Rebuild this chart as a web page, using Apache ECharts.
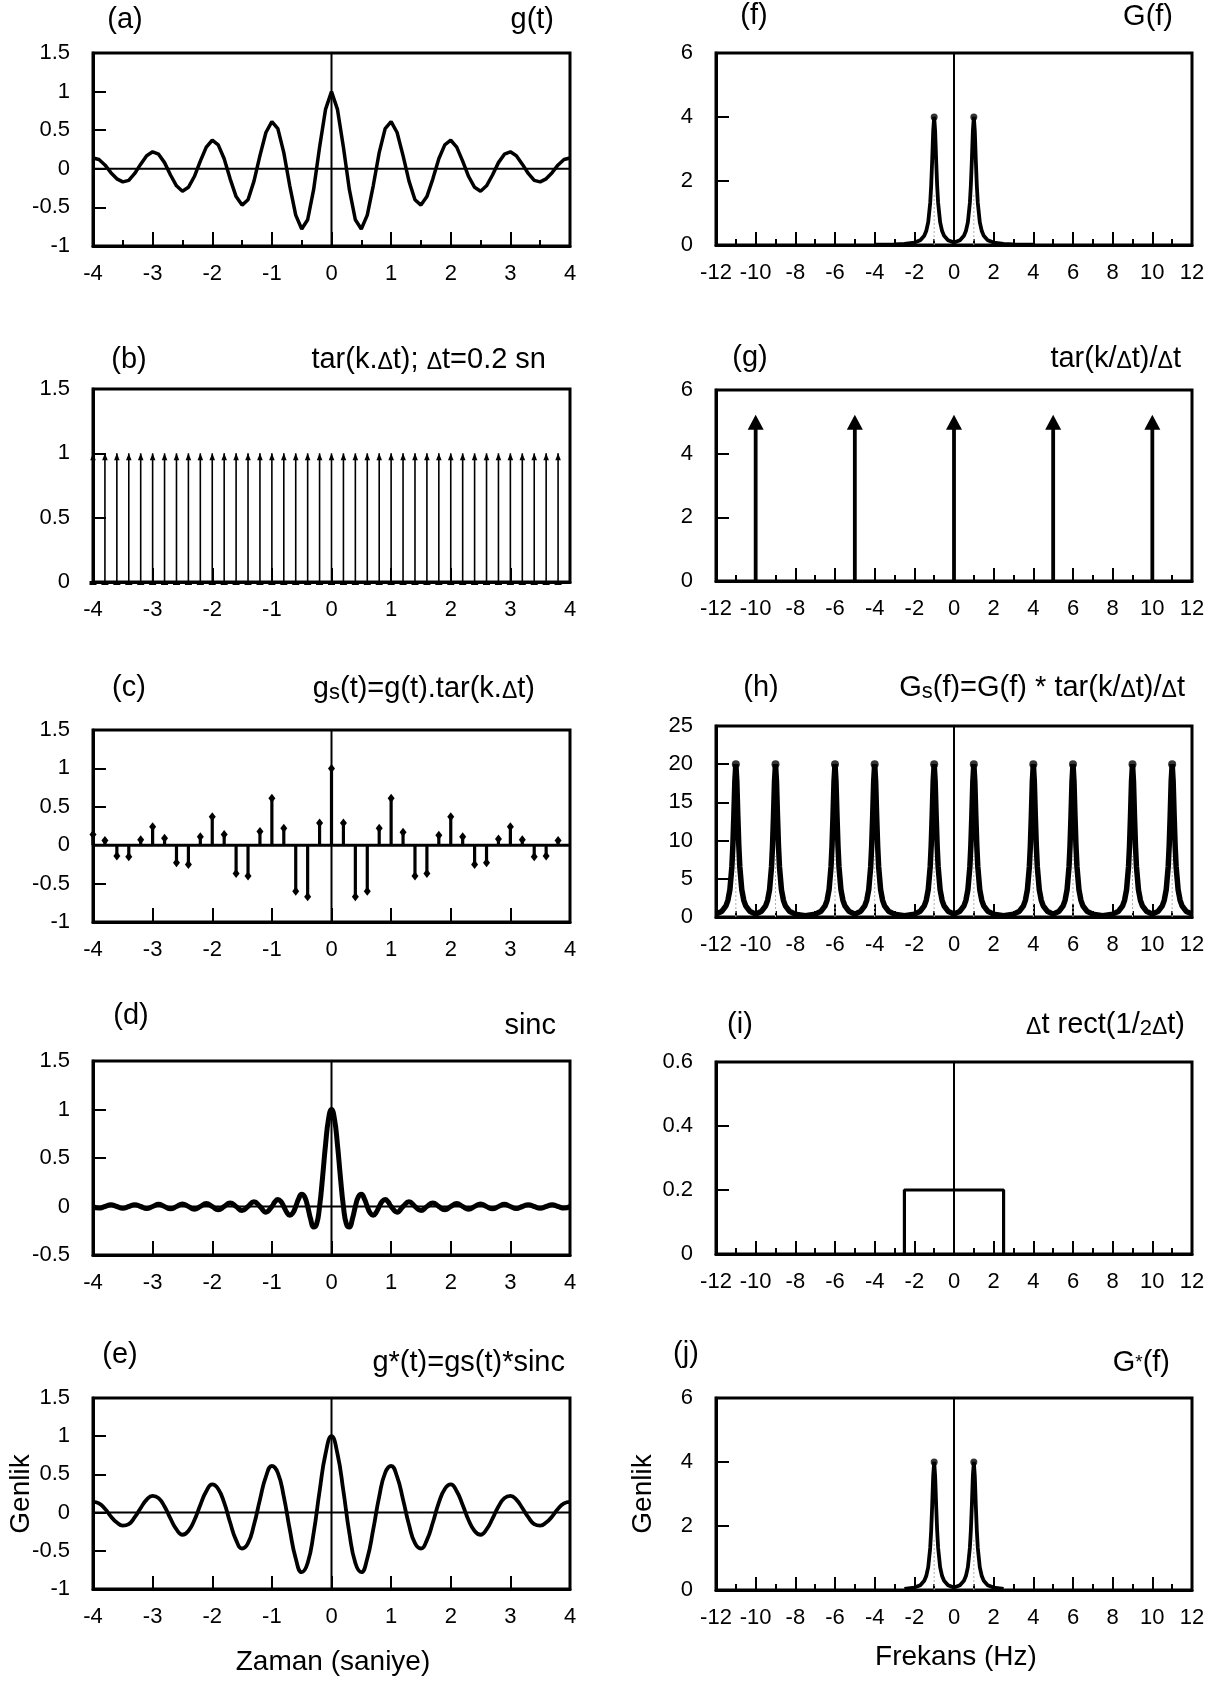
<!DOCTYPE html>
<html><head><meta charset="utf-8">
<script src="https://cdn.jsdelivr.net/npm/echarts@6.0.0/dist/echarts.min.js"></script>
<style>html,body{margin:0;padding:0;background:#fff}#c{width:1218px;height:1681px}</style>
</head><body><div id="c"></div>
<script>
// ---------------- DATA ----------------
function seq(a, b, step) { const o = []; const n = Math.round((b - a) / step); for (let k = 0; k <= n; k++) o.push(Math.round((a + k * step) * 1000) / 1000); return o; }

// (a) g(t), sampled every 0.1 s
const tA = seq(-4, 4, 0.1);
const gA = [0.14, 0.12, 0.05, -0.05, -0.13, -0.17, -0.15, -0.06, 0.06, 0.17, 0.22, 0.19, 0.08, -0.08, -0.22, -0.29, -0.24, -0.10, 0.10, 0.28, 0.37, 0.31, 0.13, -0.13, -0.36, -0.47, -0.40, -0.16, 0.17, 0.47, 0.61, 0.52, 0.21, -0.22, -0.60, -0.78, -0.66, -0.27, 0.28, 0.77,
  1.00,
  0.77, 0.28, -0.27, -0.66, -0.78, -0.60, -0.22, 0.21, 0.52, 0.61, 0.47, 0.17, -0.16, -0.40, -0.47, -0.36, -0.13, 0.13, 0.31, 0.37, 0.28, 0.10, -0.10, -0.24, -0.29, -0.22, -0.08, 0.08, 0.19, 0.22, 0.17, 0.06, -0.06, -0.15, -0.17, -0.13, -0.05, 0.05, 0.12, 0.14];

// (b) comb, Δt = 0.2 s
const tB = seq(-4, 3.8, 0.2);
const bVals = [1,1,1,1,1,1,1,1,1,1,1,1,1,1,1,1,1,1,1,1,1,1,1,1,1,1,1,1,1,1,1,1,1,1,1,1,1,1,1,1];

// (c) sampled signal
const tC = seq(-4, 3.8, 0.2);
const gC = [0.14, 0.06, -0.14, -0.15, 0.07, 0.24, 0.09, -0.23, -0.25, 0.11, 0.37, 0.14, -0.37, -0.40, 0.18, 0.61, 0.22, -0.60, -0.67, 0.29,
  1.00, 0.29, -0.67, -0.60, 0.22, 0.61, 0.17, -0.40, -0.37, 0.13, 0.37, 0.11, -0.25, -0.23, 0.08, 0.24, 0.07, -0.15, -0.14, 0.06];

// (d) sinc
const tD = seq(-4, -1.1, 0.1).concat(seq(-1, 1, 0.05), seq(1.1, 4, 0.1));
const sD = [0, -0.016, 0, 0.017, 0, -0.018, 0, 0.019, 0, -0.021, 0, 0.022, 0, -0.024, 0, 0.025, 0, -0.028, 0, 0.030, 0, -0.034, 0, 0.037, 0, -0.042, 0, 0.049, 0, -0.058,
  0, 0.047, 0.071, 0.053, 0, -0.060, -0.091, -0.069, 0, 0.082, 0.127, 0.100, 0, -0.129, -0.212, -0.180, 0, 0.300, 0.637, 0.900, 1.000, 0.900, 0.637, 0.300, 0, -0.180, -0.212, -0.129, 0, 0.100, 0.127, 0.082, 0, -0.069, -0.091, -0.060, 0, 0.053, 0.071, 0.047, 0,
  -0.058, 0, 0.049, 0, -0.042, 0, 0.037, 0, -0.034, 0, 0.030, 0, -0.028, 0, 0.025, 0, -0.024, 0, 0.022, 0, -0.021, 0, 0.019, 0, -0.018, 0, 0.017, 0, -0.016, 0];

// (e) reconstructed g*(t)
const tE = seq(-4, 4, 0.1);
const gE = gA;

// spectral peak shape (offset in Hz, relative height), read from (f)
const pOff = [-3, -2, -1.5, -1, -0.7, -0.5, -0.4, -0.3, -0.2, -0.15, -0.1, -0.05, 0, 0.05, 0.1, 0.15, 0.2, 0.3, 0.4, 0.5, 0.7, 1, 1.5, 2, 3];
const pRel = [0.002, 0.005, 0.009, 0.019, 0.038, 0.073, 0.109, 0.179, 0.329, 0.466, 0.662, 0.887, 1, 0.887, 0.662, 0.466, 0.329, 0.179, 0.109, 0.073, 0.038, 0.019, 0.009, 0.005, 0.002];

// (f) G(f)
const fPeaks = [-1, 1], fHeight = 4, fRange = [-4, 4];
// (g) comb in frequency
const gArrows = [-10, -5, 0, 5, 10], gHeight = 5;
// (h) Gs(f)
const hPeaks = [-11, -9, -6, -4, -1, 1, 4, 6, 9, 11], hHeight = 20, hRange = [-12, 12];
// (i) rect
const rectEdges = [-2.5, 2.5], rectHeight = 0.2;
// (j) G*(f)
const jPeaks = [-1, 1], jHeight = 4, jRange = [-2.5, 2.5];

// ---------------- BUILD ----------------
const FF = '"Liberation Sans", Arial, Helvetica, sans-serif';
const TICK_FS = 22;
function pairs(xs, ys) { return xs.map((x, i) => [x, ys[i]]); }
function peakLine(centers, height, lo, hi) {
  const out = [];
  centers.forEach((c, i) => {
    const a = i === 0 ? lo : (centers[i - 1] + c) / 2;
    const b = i === centers.length - 1 ? hi : (c + centers[i + 1]) / 2;
    pOff.forEach((d, k) => { const x = Math.round((c + d) * 1000) / 1000; if (x >= a - 1e-9 && x <= b + 1e-9) out.push([x, height * pRel[k]]); });
  });
  return out;
}

const panels = [
  {left: 93, top: 53, w: 477, h: 193},
  {left: 93, top: 389, w: 477, h: 193},
  {left: 93, top: 730, w: 477, h: 192},
  {left: 93, top: 1061, w: 477, h: 194},
  {left: 93, top: 1398, w: 477, h: 191},
  {left: 716, top: 53, w: 476, h: 192},
  {left: 716, top: 390, w: 476, h: 191},
  {left: 716, top: 726, w: 476, h: 191},
  {left: 716, top: 1062, w: 476, h: 192},
  {left: 716, top: 1398, w: 476, h: 192}
];
const grid = panels.map(p => ({left: p.left, top: p.top, width: p.w, height: p.h, show: true, borderWidth: 3, borderColor: '#000', backgroundColor: 'rgba(0,0,0,0)', outerBoundsMode: 'none', containLabel: false}));

function axX(gi, min, max, interval, tickLen, minorLen) {
  return {gridIndex: gi, type: 'value', min, max, interval,
    axisLine: {show: true, onZero: false, lineStyle: {color: '#000', width: 3}},
    axisTick: {show: true, inside: true, length: tickLen, lineStyle: {color: '#000', width: 2}},
    minorTick: minorLen ? {show: true, splitNumber: 2, length: minorLen, lineStyle: {color: '#000', width: 2}} : {show: false},
    splitLine: {show: false}, minorSplitLine: {show: false},
    axisLabel: {show: true, color: '#000', fontSize: TICK_FS, fontFamily: FF, margin: 17}};
}
function axY(gi, min, max, interval) {
  return {gridIndex: gi, type: 'value', min, max, interval,
    axisLine: {show: true, onZero: false, lineStyle: {color: '#000', width: 3}},
    axisTick: {show: true, inside: true, length: 13, lineStyle: {color: '#000', width: 2}},
    splitLine: {show: false},
    axisLabel: {show: true, color: '#000', fontSize: TICK_FS, fontFamily: FF, margin: 23}};
}
const xAxis = [
  axX(0, -4, 4, 1, 14, 6), axX(1, -4, 4, 1, 14, 0), axX(2, -4, 4, 1, 14, 0), axX(3, -4, 4, 1, 14, 0), axX(4, -4, 4, 1, 13, 0),
  axX(5, -12, 12, 2, 13, 6), axX(6, -12, 12, 2, 13, 6), axX(7, -12, 12, 2, 13, 6), axX(8, -12, 12, 2, 13, 6), axX(9, -12, 12, 2, 13, 6)
];
const yAxis = [
  axY(0, -1, 1.5, 0.5), axY(1, 0, 1.5, 0.5), axY(2, -1, 1.5, 0.5), axY(3, -0.5, 1.5, 0.5), axY(4, -1, 1.5, 0.5),
  axY(5, 0, 6, 2), axY(6, 0, 6, 2), axY(7, 0, 25, 5), axY(8, 0, 0.6, 0.2), axY(9, 0, 6, 2)
];

const series = [];
function line(gi, data, width, extra) {
  series.push(Object.assign({type: 'line', xAxisIndex: gi, yAxisIndex: gi, data, symbol: 'none', silent: true, animation: false,
    lineStyle: {color: '#000', width}, z: 3}, extra || {}));
}
function vZero(gi) { const y = yAxis[gi]; line(gi, [[0, y.min], [0, y.max]], 2, {z: 1}); }
function hZero(gi, w) { const x = xAxis[gi]; line(gi, [[x.min, 0], [x.max, 0]], w || 2, {z: 1}); }

function stems(gi, data, o) {
  series.push({type: 'custom', xAxisIndex: gi, yAxisIndex: gi, data, silent: true, animation: false, clip: false, z: o.z || 4,
    renderItem: function (params, api) {
      const x = api.value(0), y = api.value(1);
      const p0 = api.coord([x, 0]), p1 = api.coord([x, y]);
      const ch = [{type: 'line', shape: {x1: p0[0], y1: p0[1], x2: p1[0], y2: p1[1]}, style: {stroke: o.color || '#000', lineWidth: o.lw, lineDash: o.dash || null}}];
      if (o.head === 'arrow') {
        const tip = p1[1] - o.tipUp, base = tip + o.hh;
        ch.push({type: 'polygon', shape: {points: [[p1[0], tip], [p1[0] - o.hw, base], [p1[0] + o.hw, base]]}, style: {fill: '#000'}});
      } else if (o.head === 'diamond') {
        ch.push({type: 'polygon', shape: {points: [[p1[0], p1[1] - 4.5], [p1[0] + 3.5, p1[1]], [p1[0], p1[1] + 4.5], [p1[0] - 3.5, p1[1]]]}, style: {fill: '#000'}});
      }
      if (o.base) ch.push({type: 'rect', shape: {x: p0[0] - 3.5, y: p0[1] - 1, width: 7, height: 4}, style: {fill: '#000'}});
      return {type: 'group', children: ch};
    }});
}
function dots(gi, data, size) {
  series.push({type: 'scatter', xAxisIndex: gi, yAxisIndex: gi, data, symbol: 'circle', symbolSize: size, itemStyle: {color: '#000'}, silent: true, animation: false, z: 5});
}

// (a)
vZero(0); hZero(0); line(0, pairs(tA, gA), 3.5);
// (b)
stems(1, pairs(tB, bVals), {lw: 1.6, head: 'arrow', hw: 2.8, hh: 7, tipUp: 0, base: true});
// (c)
vZero(2); hZero(2, 3); stems(2, pairs(tC, gC), {lw: 3.2, head: 'diamond'});
// (d)
vZero(3); hZero(3); line(3, pairs(tD, sD), 5, {smooth: 0.5});
// (e)
vZero(4); hZero(4); line(4, pairs(tE, gE), 3.8, {smooth: 0.5});
// (f)
vZero(5);
stems(5, fPeaks.map(c => [c, fHeight * 0.4]), {lw: 1, color: '#b0b0b0', dash: [2, 2], z: 2});
line(5, peakLine(fPeaks, fHeight, fRange[0], fRange[1]), 3.8);
dots(5, fPeaks.map(c => [c, fHeight]), 7);
// (g)
stems(6, gArrows.map(c => [c, gHeight]), {lw: 3.8, head: 'arrow', hw: 8, hh: 15, tipUp: 7});
// (h)
vZero(7);
stems(7, hPeaks.map(c => [c, hHeight * 0.4]), {lw: 1, color: '#b0b0b0', dash: [2, 2], z: 2});
line(7, peakLine(hPeaks, hHeight, hRange[0], hRange[1]), 5.5);
dots(7, hPeaks.map(c => [c, hHeight]), 8);
// (i)
vZero(8);
line(8, [[rectEdges[0], 0], [rectEdges[0], rectHeight], [rectEdges[1], rectHeight], [rectEdges[1], 0]], 3.2);
// (j)
vZero(9);
stems(9, jPeaks.map(c => [c, jHeight * 0.4]), {lw: 1, color: '#b0b0b0', dash: [2, 2], z: 2});
line(9, peakLine(jPeaks, jHeight, jRange[0], jRange[1]), 3.8);
dots(9, jPeaks.map(c => [c, jHeight]), 7);

// ---------------- TEXT ----------------
const TS = 29;
const rich = {
  n: {fontSize: TS, fontFamily: FF, color: '#000', verticalAlign: 'bottom'},
  d: {fontSize: 23, fontFamily: FF, color: '#000', verticalAlign: 'bottom'},
  s: {fontSize: 22, fontFamily: FF, color: '#000', verticalAlign: 'bottom'},
  st: {fontSize: 19, fontFamily: FF, color: '#000', verticalAlign: 'middle'}
};
const labels = [
  ['{n|(a)}', 125, 20, 'center'], ['{n|g(t)}', 554, 20, 'right'],
  ['{n|(b)}', 129, 360, 'center'], ['{n|tar(k.}{d|Δ}{n|t); }{d|Δ}{n|t=0.2 sn}', 546, 360, 'right'],
  ['{n|(c)}', 129, 688, 'center'], ['{n|g}{s|s}{n|(t)=g(t).tar(k.}{d|Δ}{n|t)}', 535, 689, 'right'],
  ['{n|(d)}', 131, 1016, 'center'], ['{n|sinc}', 556, 1026, 'right'],
  ['{n|(e)}', 120, 1355, 'center'], ['{n|g*(t)=gs(t)*sinc}', 565, 1363, 'right'],
  ['{n|(f)}', 754, 16, 'center'], ['{n|G(f)}', 1173, 17, 'right'],
  ['{n|(g)}', 750, 358, 'center'], ['{n|tar(k/}{d|Δ}{n|t)/}{d|Δ}{n|t}', 1181, 359, 'right'],
  ['{n|(h)}', 761, 688, 'center'], ['{n|G}{s|s}{n|(f)=G(f) * tar(k/}{d|Δ}{n|t)/}{d|Δ}{n|t}', 1185, 688, 'right'],
  ['{n|(i)}', 740, 1025, 'center'], ['{d|Δ}{n|t rect(1/}{s|2}{d|Δ}{n|t)}', 1185, 1025, 'right'],
  ['{n|(j)}', 686, 1354, 'center'], ['{n|G}{st|*}{n|(f)}', 1170, 1363, 'right']
];
const graphic = labels.map(l => ({type: 'text', x: l[1], y: l[2], z: 100, silent: true,
  style: {text: l[0], rich, fontSize: TS, fontFamily: FF, fill: '#000', align: l[3], verticalAlign: 'middle', textAlign: l[3], textVerticalAlign: 'middle'}}));
const axisNames = [
  ['Genlik', 21, 1494, Math.PI / 2], ['Genlik', 643, 1494, Math.PI / 2],
  ['Zaman (saniye)', 333, 1662, 0], ['Frekans (Hz)', 956, 1657, 0]
];
axisNames.forEach(a => graphic.push({type: 'text', x: a[1], y: a[2], rotation: a[3], z: 100, silent: true,
  style: {text: a[0], fontSize: 28, fontFamily: FF, fill: '#000', align: 'center', verticalAlign: 'middle', textAlign: 'center', textVerticalAlign: 'middle'}}));

const chart = echarts.init(document.getElementById('c'), null, {renderer: 'canvas'});
chart.setOption({animation: false, backgroundColor: '#fff', grid, xAxis, yAxis, series, graphic});
</script></body></html>
